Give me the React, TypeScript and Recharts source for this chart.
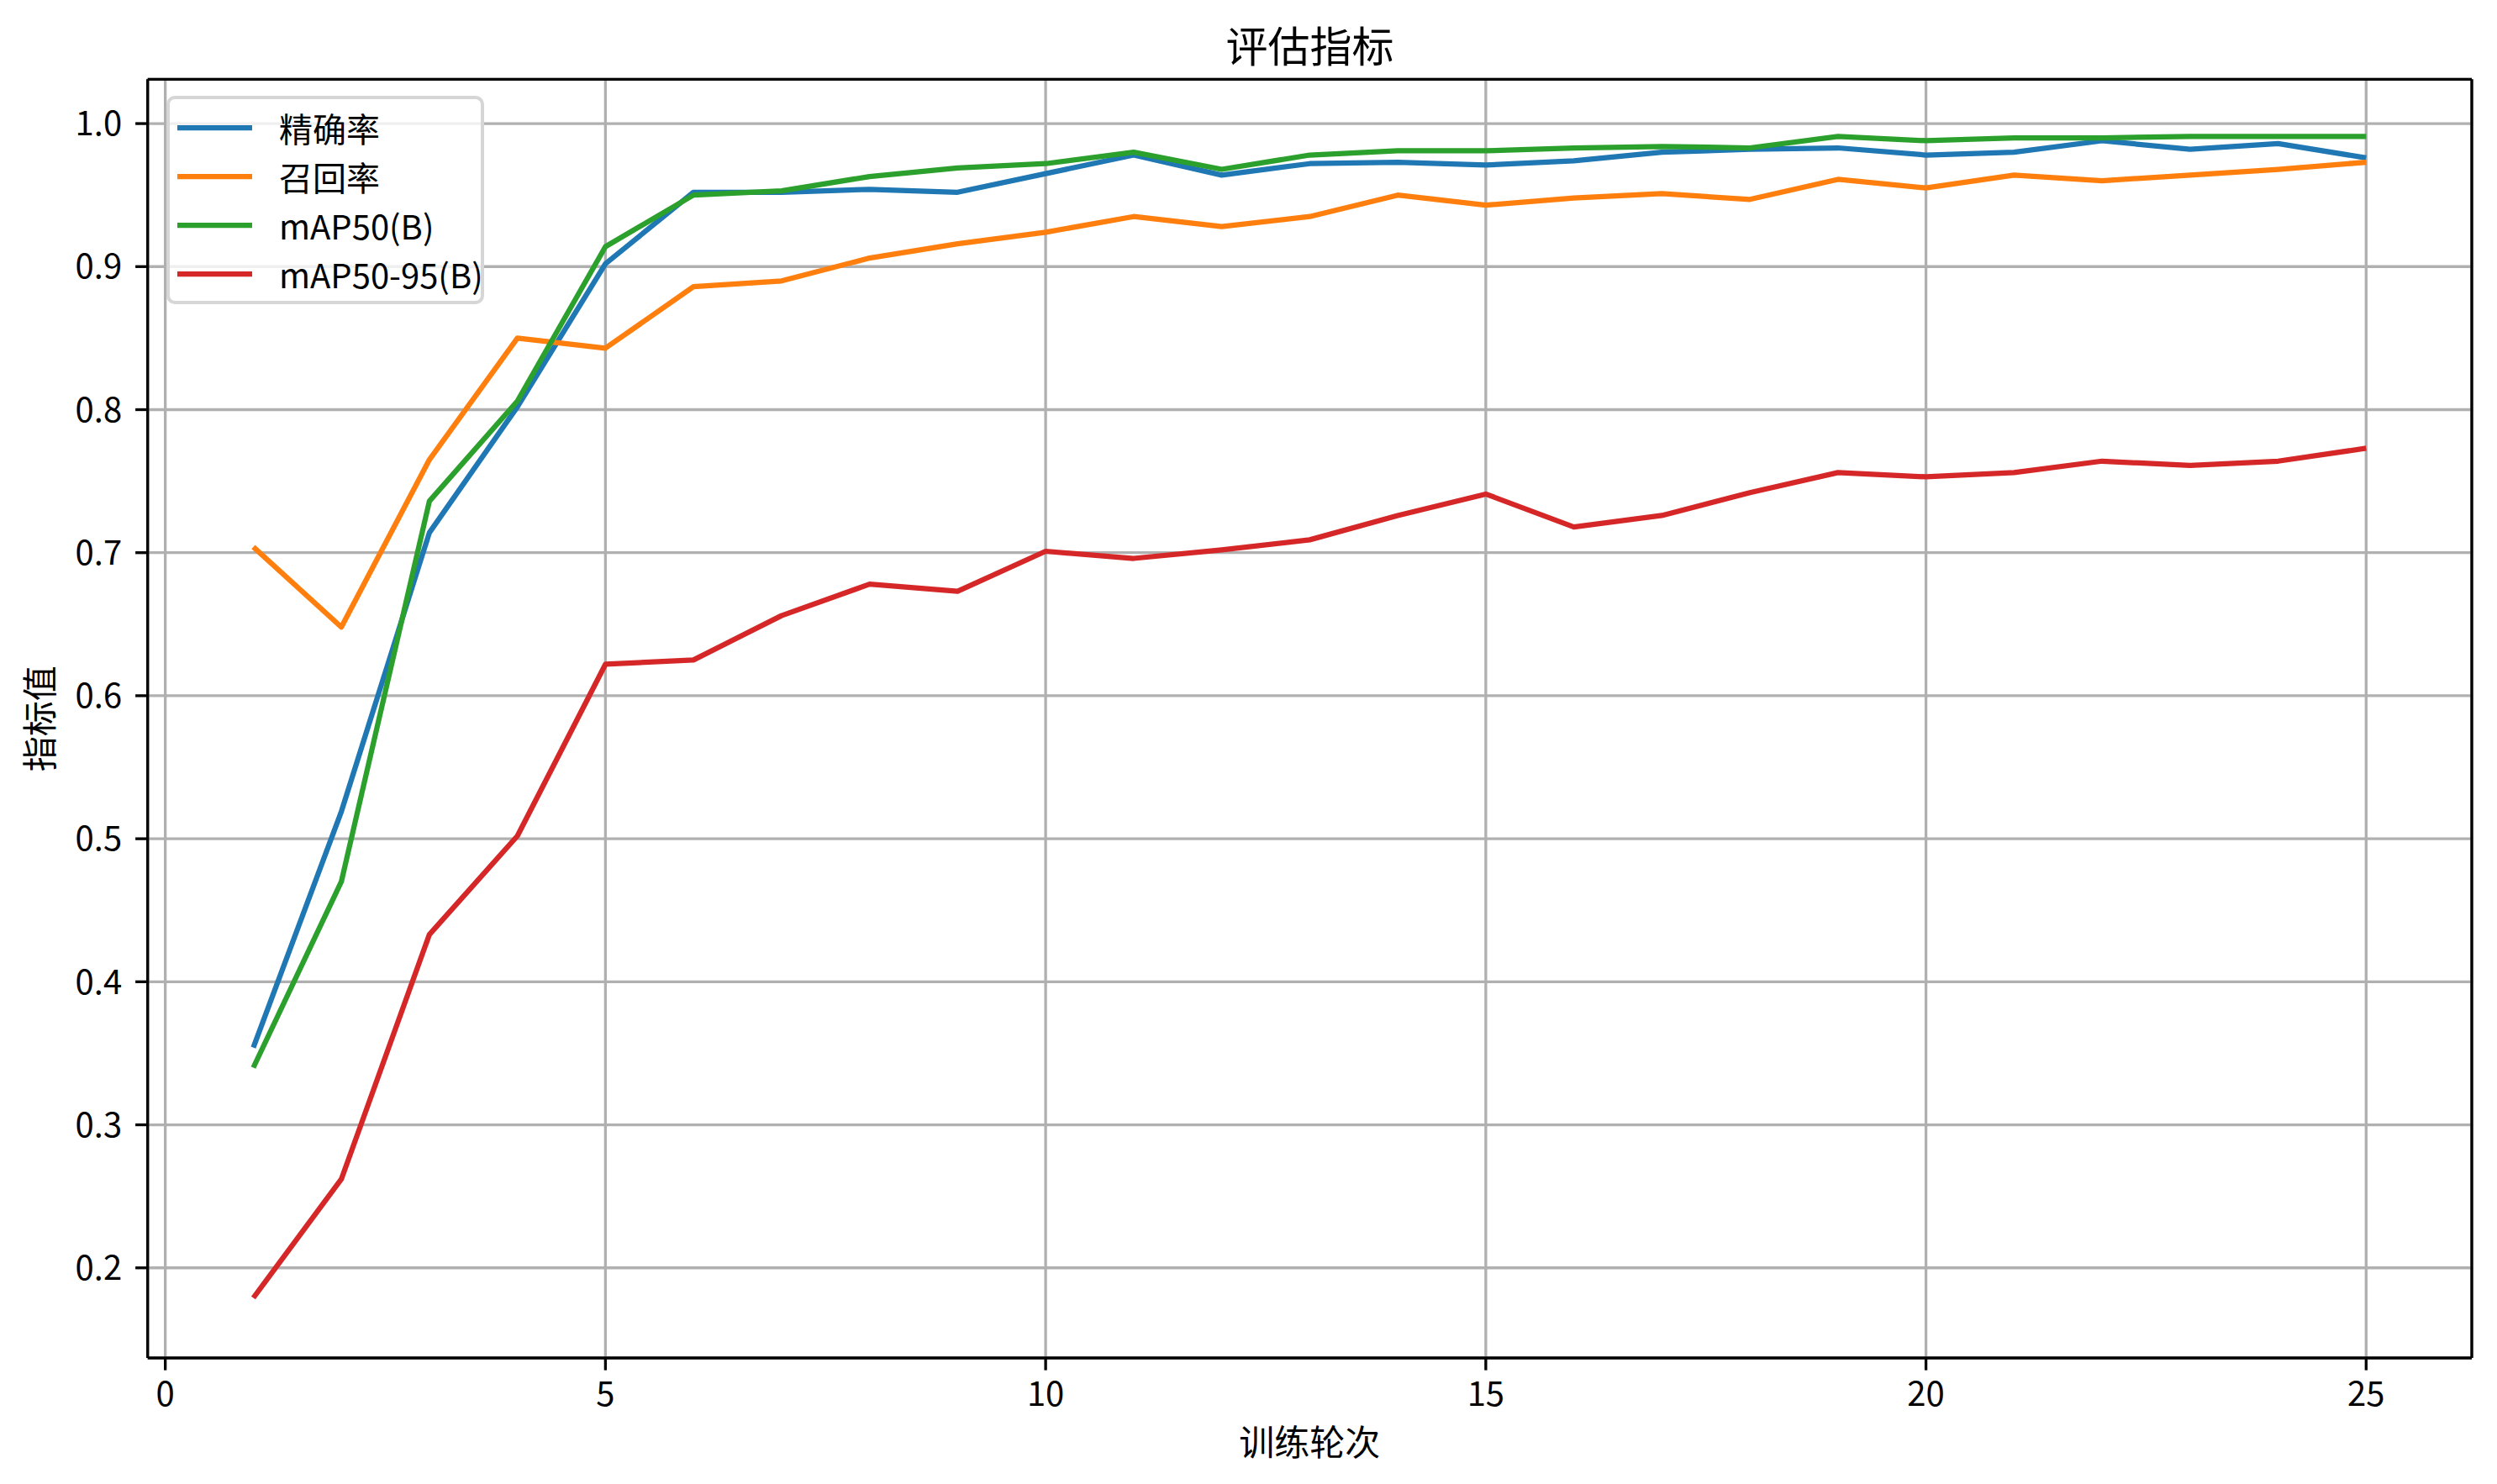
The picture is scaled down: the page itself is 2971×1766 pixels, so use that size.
import { LineChart, Line, XAxis, YAxis, CartesianGrid, Legend, ReferenceLine } from "recharts"

document.body.style.margin = "0"

const FONT = '"Noto Sans CJK SC", "Noto Sans", sans-serif'

const epochs = [1, 2, 3, 4, 5, 6, 7, 8, 9, 10, 11, 12, 13, 14, 15, 16, 17, 18, 19, 20, 21, 22, 23, 24, 25]

const precision = [0.354, 0.519, 0.714, 0.802, 0.902, 0.952, 0.952, 0.954, 0.952, 0.965, 0.978, 0.964, 0.972,
  0.973, 0.971, 0.974, 0.980, 0.982, 0.983, 0.978, 0.980, 0.988, 0.982, 0.986, 0.976]
const recall = [0.704, 0.648, 0.765, 0.850, 0.843, 0.886, 0.890, 0.906, 0.916, 0.924, 0.935, 0.928, 0.935,
  0.950, 0.943, 0.948, 0.951, 0.947, 0.961, 0.955, 0.964, 0.960, 0.964, 0.968, 0.973]
const map50 = [0.340, 0.470, 0.736, 0.806, 0.914, 0.950, 0.953, 0.963, 0.969, 0.972, 0.980, 0.968, 0.978,
  0.981, 0.981, 0.983, 0.984, 0.983, 0.991, 0.988, 0.990, 0.990, 0.991, 0.991, 0.991]
const map5095 = [0.179, 0.262, 0.433, 0.502, 0.622, 0.625, 0.656, 0.678, 0.673, 0.701, 0.696, 0.702, 0.709,
  0.726, 0.741, 0.718, 0.726, 0.742, 0.756, 0.753, 0.756, 0.764, 0.761, 0.764, 0.773]

const seriesNames = ["精确率", "召回率", "mAP50(B)", "mAP50-95(B)"]
const seriesColors = ["#1f77b4", "#ff7f0e", "#2ca02c", "#d62728"]
const seriesValues = [precision, recall, map50, map5095]

const xTicks = [0, 5, 10, 15, 20, 25]
const yTicks = [0.2, 0.3, 0.4, 0.5, 0.6, 0.7, 0.8, 0.9, 1.0]
const xDomain = [-0.2, 26.2]
const yDomain = [0.137, 1.031]

const data = epochs.map((e, i) => {
  const row: Record<string, number> = { epoch: e }
  seriesValues.forEach((vals, k) => { row["s" + k] = vals[i] })
  return row
})

const tickStyle = { fill: "#000", fontSize: 40, fontFamily: FONT }
const spine = { stroke: "#000", strokeWidth: 3.33 }

function LegendBox() {
  return (
    <div style={{
      boxSizing: "border-box", width: 378, height: 248, paddingTop: 5,
      border: "4px solid #d6d6d6", borderRadius: 10, background: "rgba(255,255,255,0.8)",
      fontFamily: FONT,
    }}>
      {seriesNames.map((name, k) => (
        <div key={name} style={{ display: "flex", alignItems: "center", height: 58 }}>
          <svg width={89} height={10} style={{ marginLeft: 9, flex: "none" }}>
            <line x1={0} y1={5} x2={89} y2={5} stroke={seriesColors[k]} strokeWidth={6.25} />
          </svg>
          <span style={{ marginLeft: 32, fontSize: 40, lineHeight: "58px", color: "#000", whiteSpace: "nowrap" }}>
            {name}
          </span>
        </div>
      ))}
    </div>
  )
}

export default function App() {
  return (
    <div style={{ position: "relative", width: 2971, height: 1766, background: "#fff" }}>
      <div style={{
        position: "absolute", left: 176, width: 2765, top: 27, height: 50, lineHeight: "50px",
        textAlign: "center", fontSize: 50, fontFamily: FONT, color: "#000", zIndex: 2,
      }}>
        评估指标
      </div>
      <LineChart width={2971} height={1766} data={data} margin={{ top: 94.3, right: 30, bottom: 0, left: 0 }}>
        <CartesianGrid stroke="#b0b0b0" strokeWidth={3.33} />
        <XAxis
          dataKey="epoch" type="number" domain={xDomain} ticks={xTicks} interval={0}
          allowDataOverflow height={150} tickSize={14.6} tickMargin={14}
          tick={tickStyle} tickLine={spine} axisLine={spine}
          label={{ value: "训练轮次", position: "insideBottom", offset: 34, fill: "#000", fontSize: 42, fontFamily: FONT }}
        />
        <YAxis
          type="number" domain={yDomain} ticks={yTicks} interval={0} allowDataOverflow
          width={175.7} tickSize={14.6} tickMargin={16}
          tickFormatter={(v: number) => v.toFixed(1)}
          tick={tickStyle} tickLine={spine} axisLine={spine}
          label={{
            value: "指标值", angle: -90, position: "insideLeft", offset: 48,
            fill: "#000", fontSize: 42, fontFamily: FONT, style: { textAnchor: "middle" },
          }}
        />
        {seriesNames.map((name, k) => (
          <Line
            key={name} dataKey={"s" + k} name={name} stroke={seriesColors[k]} strokeWidth={6.25}
            strokeLinejoin="round" dot={false} activeDot={false} isAnimationActive={false}
          />
        ))}
        {/* top and right spines */}
        <ReferenceLine y={yDomain[1]} stroke="#000" strokeWidth={3.33} ifOverflow="visible" />
        <ReferenceLine x={xDomain[1]} stroke="#000" strokeWidth={3.33} ifOverflow="visible" />
        <Legend
          layout="vertical" align="center" verticalAlign="middle" content={() => <LegendBox />}
          wrapperStyle={{ left: 198, top: 114, width: 378, height: 248 }}
        />
      </LineChart>
    </div>
  )
}
